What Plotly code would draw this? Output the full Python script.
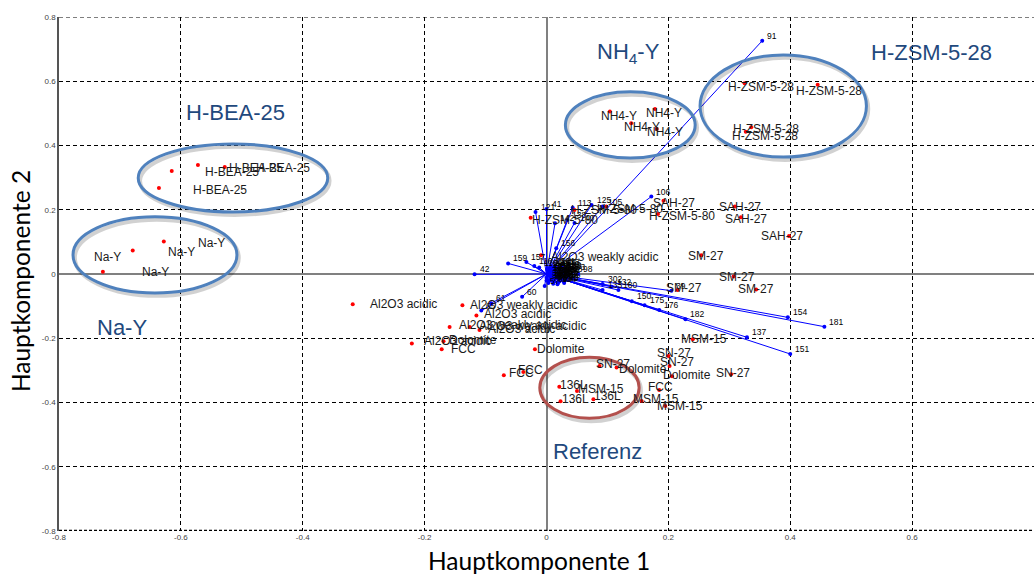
import plotly.graph_objects as go

# ---- sample scores (PC1, PC2) ----
sample_names = [
    "Na-Y", "Na-Y", "Na-Y",
    "H-BEA-25", "H-BEA-25", "H-BEA-25", "H-BEA-25",
    "Al2O3 acidic", "Al2O3 weakly acidic", "Al2O3 acidic", "Al2O3 weakly acidic",
    "Al2O3 weakly acidic", "Al2O3 acidic", "Al2O3 acidic", "Dolomite", "FCC",
    "Dolomite", "FCC", "FCC", "136L", "136L", "MSM-15", "136L", "SN-27", "Dolomite",
    "MSM-15", "FCC", "MSM-15", "SN-27", "SN-27", "Dolomite", "SN-27", "MSM-15",
    "SM-27", "SM-27", "SM-27", "SM-27",
    "SAH-27", "SAH-27", "SAH-27", "SAH-27",
    "H-ZSM-5-80", "H-ZSM-5-80", "H-ZSM-5-80", "H-ZSM-5-80",
    "NH4-Y", "NH4-Y", "NH4-Y", "NH4-Y",
    "H-ZSM-5-28", "H-ZSM-5-28", "H-ZSM-5-28", "H-ZSM-5-28",
    "Al2O3 weakly acidic",
]
sample_pc1 = [
    -0.728, -0.679, -0.628,
    -0.636, -0.615, -0.572, -0.528,
    -0.318, -0.138, -0.115, -0.159,
    -0.126, -0.110, -0.221, -0.169, -0.172,
    -0.019, -0.070, -0.038, 0.021, 0.023, 0.050, 0.077, 0.087, 0.115,
    0.156, 0.185, 0.195, 0.200, 0.202, 0.206, 0.303, 0.240,
    0.307, 0.344, 0.254, 0.215,
    0.398, 0.309, 0.319, 0.192,
    0.183, 0.046, 0.098, -0.026,
    0.104, 0.178, 0.139, 0.181,
    0.325, 0.445, 0.336, 0.327,
    -0.009,
]
sample_pc2 = [
    0.007, 0.073, 0.101,
    0.268, 0.321, 0.339, 0.333,
    -0.094, -0.097, -0.129, -0.165,
    -0.165, -0.174, -0.216, -0.209, -0.234,
    -0.234, -0.315, -0.305, -0.351, -0.396, -0.364, -0.390, -0.286, -0.291,
    -0.395, -0.361, -0.411, -0.255, -0.286, -0.318, -0.312, -0.203,
    -0.008, -0.048, 0.058, -0.050,
    0.118, 0.210, 0.177, 0.228,
    0.187, 0.199, 0.210, 0.175,
    0.506, 0.514, 0.469, 0.451,
    0.594, 0.589, 0.457, 0.443,
    0.058,
]

# ---- sample label anchors (left edge, PC1 / PC2) ----
label_text = [
    "Na-Y", "Na-Y", "Na-Y", "Na-Y",
    "H-BEA-25", "H-BEA-25", "H-BEA-25", "H-BEA-25",
    "Al2O3 acidic", "Al2O3 weakly acidic", "Al2O3 acidic", "Al2O3 weakly acidic",
    "Al2O3 weakly acidic", "Al2O3 acidic", "Al2O3 acidic", "Dolomite", "FCC",
    "Dolomite", "FCC", "FCC", "136L", "136L", "MSM-15", "136L", "SN-27", "Dolomite",
    "MSM-15", "FCC", "MSM-15", "SN-27", "SN-27", "Dolomite", "SN-27", "MSM-15",
    "SM-27", "SM-27", "SM-27", "SM-27",
    "SAH-27", "SAH-27", "SAH-27", "SAH-27",
    "H-ZSM-5-80", "H-ZSM-5-80", "H-ZSM-5-80", "H-ZSM-5-80",
    "NH4-Y", "NH4-Y", "NH4-Y", "NH4-Y",
    "H-ZSM-5-28", "H-ZSM-5-28", "H-ZSM-5-28", "H-ZSM-5-28",
    "Al2O3 weakly acidic",
]
label_pc1 = [
    -0.744, -0.666, -0.623, -0.574,
    -0.581, -0.562, -0.523, -0.479,
    -0.291, -0.128, -0.105, -0.146,
    -0.113, -0.097, -0.202, -0.162, -0.158,
    -0.017, -0.064, -0.048, 0.021, 0.023, 0.050, 0.077, 0.080, 0.117,
    0.141, 0.165, 0.179, 0.180, 0.185, 0.190, 0.277, 0.219,
    0.195, 0.281, 0.313, 0.231,
    0.351, 0.282, 0.291, 0.173,
    0.166, 0.038, 0.082, -0.025,
    0.088, 0.162, 0.126, 0.164,
    0.297, 0.408, 0.305, 0.302,
    0.005,
]
label_pc2 = [
    0.053, 0.006, 0.069, 0.097,
    0.261, 0.316, 0.331, 0.331,
    -0.094, -0.097, -0.125, -0.159,
    -0.162, -0.171, -0.209, -0.206, -0.234,
    -0.233, -0.309, -0.299, -0.345, -0.390, -0.358, -0.379, -0.280, -0.296,
    -0.389, -0.352, -0.410, -0.247, -0.275, -0.314, -0.307, -0.202,
    -0.045, -0.010, -0.048, 0.056,
    0.119, 0.208, 0.171, 0.220,
    0.181, 0.199, 0.202, 0.168,
    0.493, 0.502, 0.457, 0.441,
    0.582, 0.571, 0.451, 0.430,
    0.053,
]

# ---- variable loadings (PC1, PC2) ----
loading_ids = [
    "91", "154", "181", "137", "151", "182", "106", "105", "125", "113",
    "121", "41", "142", "138", "140", "156", "159", "157", "110", "116",
    "42", "60", "61", "65", "57", "98", "302", "132", "180", "39",
    "133", "175", "176", "150",
    "1", "2", "3", "5", "7", "9", "11", "14", "17", "19", "22", "25",
    "28", "31", "34", "37", "44", "47", "52", "55", "63", "68", "72", "77",
    "84", "88", "93", "97", "101", "112", "118", "124", "130", "146", "163", "171",
    "4", "6", "8", "10", "12", "13", "15", "16", "18", "20", "23", "24",
    "26", "29", "30", "32", "35", "36", "38", "40", "43", "45", "46", "48",
]
loading_pc1 = [
    0.354, 0.396, 0.456, 0.329, 0.400, 0.228, 0.172, 0.092, 0.074, 0.043,
    -0.018, 0.000, 0.014, 0.034, 0.046, 0.016, -0.063, -0.033, -0.020, -0.012,
    -0.118, -0.040, -0.091, -0.107, -0.003, 0.052, 0.092, 0.107, 0.118, 0.205,
    0.092, 0.161, 0.185, 0.140,
    0.004, 0.012, 0.020, 0.026, 0.008, 0.016, 0.024, 0.002, 0.010, 0.018, 0.028, 0.006,
    0.014, 0.022, 0.030, 0.000, 0.009, 0.017, 0.025, 0.005, 0.013, 0.021, 0.029, 0.003,
    0.011, 0.019, 0.027, 0.007, 0.015, 0.023, 0.001, 0.018, 0.026, 0.010, 0.032, 0.020,
    0.006, 0.014, 0.022, 0.030, 0.002, 0.010, 0.018, 0.026, 0.034, 0.004, 0.012, 0.020,
    0.028, 0.008, 0.016, 0.024, 0.032, 0.000, 0.011, 0.021, 0.029, 0.015, 0.025, 0.035,
]
loading_pc2 = [
    0.726, -0.135, -0.164, -0.197, -0.249, -0.141, 0.241, 0.210, 0.215, 0.206,
    0.193, 0.202, 0.158, 0.168, 0.159, 0.080, 0.033, 0.037, 0.025, 0.020,
    -0.001, -0.071, -0.091, -0.114, -0.037, 0.000, -0.031, -0.040, -0.050, -0.052,
    -0.050, -0.097, -0.112, -0.085,
    0.018, 0.021, 0.016, 0.019, 0.010, 0.012, 0.008, 0.004, 0.002, 0.005, 0.000, -0.005,
    -0.003, -0.008, -0.004, -0.012, -0.014, -0.011, -0.016, -0.020, -0.022, -0.019, -0.024, -0.028,
    -0.030, -0.027, -0.013, 0.024, 0.025, 0.022, 0.013, -0.032, 0.011, -0.006, 0.006, -0.001,
    0.015, 0.018, 0.013, 0.016, 0.007, 0.009, 0.006, 0.003, 0.010, -0.002, -0.006, -0.002,
    -0.009, -0.016, -0.013, -0.010, -0.018, -0.020, -0.025, -0.023, -0.028, 0.020, 0.023, 0.000,
]

# ---- highlighted sample groups ----
group_names = ["H-BEA-25", "Na-Y", "NH<sub>4</sub>-Y", "H-ZSM-5-28", "Referenz"]
group_label_pc1 = [-0.510, -0.697, 0.134, 0.631, 0.084]
group_label_pc2 = [0.502, -0.168, 0.688, 0.688, -0.551]
# ellipse bounds: x0, x1, y0, y1
group_x0 = [-0.670, -0.777, 0.031, 0.252, -0.011]
group_x1 = [-0.359, -0.508, 0.244, 0.525, 0.152]
group_y0 = [0.193, -0.059, 0.361, 0.364, -0.449]
group_y1 = [0.405, 0.178, 0.567, 0.682, -0.259]
group_colors = ["#4F81BD", "#4F81BD", "#4F81BD", "#4F81BD", "#B3504D"]

ticks = [-0.8, -0.6, -0.4, -0.2, 0, 0.2, 0.4, 0.6, 0.8]
tick_text = ["-0.8", "-0.6", "-0.4", "-0.2", "0", "0.2", "0.4", "0.6", "0.8"]

fig = go.Figure()

# loading vectors from the origin
vx, vy = [], []
for a, b in zip(loading_pc1, loading_pc2):
    vx += [0, a, None]
    vy += [0, b, None]
fig.add_trace(go.Scatter(x=vx, y=vy, mode="lines",
                         line=dict(color="#0000FF", width=1), hoverinfo="skip"))
fig.add_trace(go.Scatter(x=loading_pc1, y=loading_pc2, mode="markers",
                         marker=dict(color="#0000FF", size=4), hoverinfo="skip"))

# sample scores
fig.add_trace(go.Scatter(x=sample_pc1, y=sample_pc2, mode="markers",
                         marker=dict(color="#FF0000", size=4),
                         text=sample_names, hoverinfo="text"))

annotations = []
for t, a, b in zip(loading_ids, loading_pc1, loading_pc2):
    annotations.append(dict(x=a, y=b, text=t, showarrow=False, xanchor="left",
                            yanchor="middle", xshift=3, yshift=5,
                            font=dict(family="Arial", size=8.5, color="#000")))
for t, a, b in zip(label_text, label_pc1, label_pc2):
    annotations.append(dict(x=a, y=b, text=t, showarrow=False, xanchor="left",
                            yanchor="middle", borderpad=0,
                            font=dict(family="Arial", size=12, color="#1a1a1a")))
for t, a, b in zip(group_names, group_label_pc1, group_label_pc2):
    annotations.append(dict(x=a, y=b, text=t, showarrow=False, xanchor="center",
                            yanchor="middle",
                            font=dict(family="Arial", size=22, color="#1F497D")))

# axis titles
annotations.append(dict(x=-0.013, y=-0.057, xref="x", yref="paper", text="Hauptkomponente 1",
                        showarrow=False, xanchor="center", yanchor="middle",
                        font=dict(family="Lato", size=24.5, color="#000")))
annotations.append(dict(x=-0.04, y=-0.022, xref="paper", yref="y", text="Hauptkomponente 2",
                        showarrow=False, textangle=-90, xanchor="center", yanchor="middle",
                        font=dict(family="Lato", size=24.5, color="#000")))

shapes = []
# frame lines at the top and bottom of the plotting range
shapes.append(dict(type="line", xref="paper", yref="y", x0=0, x1=1, y0=0.8, y1=0.8,
                   line=dict(color="#000", width=1, dash="4px,3px")))
shapes.append(dict(type="line", xref="paper", yref="y", x0=0, x1=1, y0=-0.8, y1=-0.8,
                   line=dict(color="#000", width=2.5, dash="3px,2px")))
for x0, x1, y0, y1 in zip(group_x0, group_x1, group_y0, group_y1):
    shapes.append(dict(type="circle", xref="x", yref="y",
                       x0=x0 + 0.003, x1=x1 + 0.003, y0=y0 - 0.009, y1=y1 - 0.009,
                       line=dict(color="rgba(0,0,0,0.18)", width=4)))
for x0, x1, y0, y1, c in zip(group_x0, group_x1, group_y0, group_y1, group_colors):
    shapes.append(dict(type="circle", xref="x", yref="y",
                       x0=x0, x1=x1, y0=y0, y1=y1,
                       line=dict(color=c, width=3)))

axis_common = dict(
    range=[-0.8, 0.8], tickvals=ticks, ticktext=tick_text,
    tickfont=dict(family="Arial", size=8, color="#444"),
    showgrid=True, gridcolor="#000", gridwidth=1, griddash="4px,3px",
    zeroline=True, zerolinecolor="#808080", zerolinewidth=1.5,
    ticks="", fixedrange=True,
)
fig.update_layout(
    width=1034, height=574,
    margin=dict(l=59, r=0, t=17, b=43),
    paper_bgcolor="white", plot_bgcolor="white",
    showlegend=False,
    xaxis=dict(**axis_common, showline=False),
    yaxis=dict(**axis_common, showline=True, linecolor="#555", linewidth=1.5),
    annotations=annotations,
    shapes=shapes,
)

fig.write_html("out.html")
